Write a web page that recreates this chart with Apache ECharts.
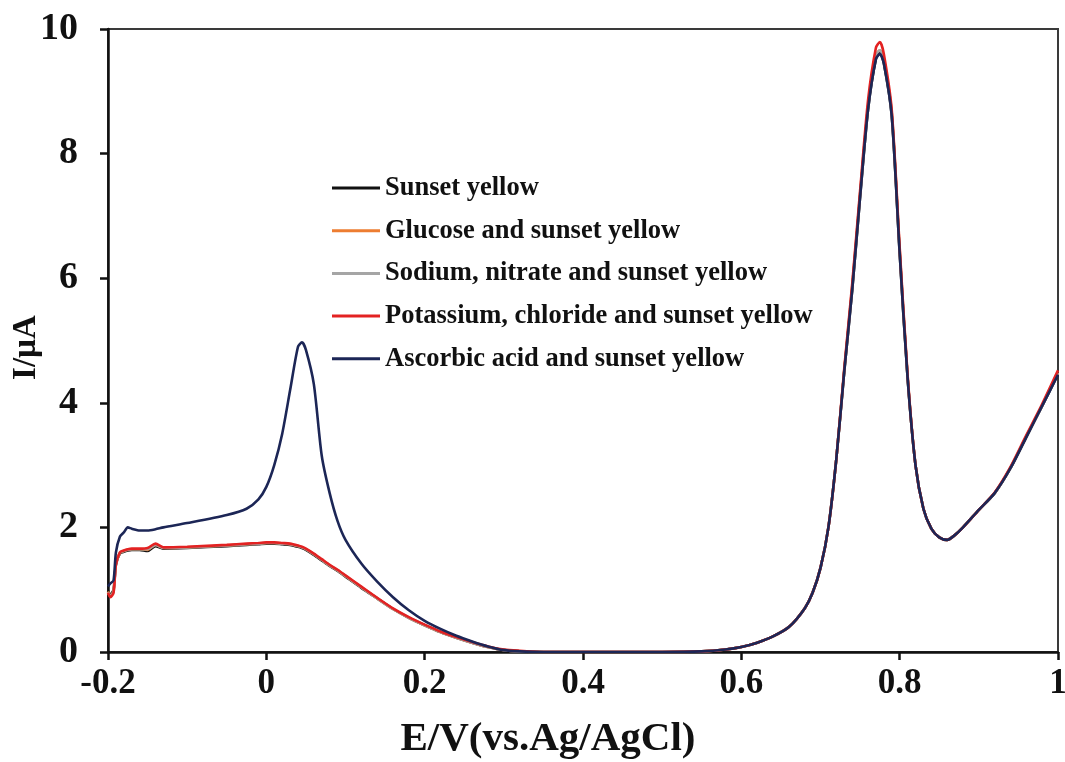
<!DOCTYPE html>
<html>
<head>
<meta charset="utf-8">
<script src="https://cdn.jsdelivr.net/npm/echarts@6/dist/echarts.min.js"></script>
<style>
html,body{margin:0;padding:0;background:#fff;}
#chart{width:1065px;height:762px;}
</style>
</head>
<body>
<div id="chart"></div>
<script>
// Potential (V vs Ag/AgCl)
const potentials = [-0.2,-0.197,-0.193,-0.19,-0.185,-0.18,-0.175,-0.17,-0.16,-0.15,-0.14,-0.13,-0.1,-0.05,-0.025,-0.01,0,0.01,0.02,0.03,0.04,0.045,0.05,0.06,0.07,0.08,0.09,0.1,0.12,0.14,0.16,0.18,0.2,0.22,0.24,0.26,0.28,0.3,0.32,0.35,
  0.4,0.45,0.5,0.55,0.58,0.6,0.62,0.64,0.66,0.68,0.69,0.7,0.71,0.72,0.73,0.74,0.75,0.76,0.77,0.775,0.78,0.79,0.8,0.81,0.82,0.83,0.84,0.85,0.86,0.87,0.88,0.9,0.92,0.94,0.96,0.98,1.0];

const sunsetYellow = [0.98,0.92,1.0,1.4,1.58,1.61,1.63,1.64,1.64,1.62,1.7,1.66,1.67,1.7,1.72,1.73,1.74,1.74,1.73,1.72,1.69,1.67,1.64,1.56,1.47,1.38,1.3,1.21,1.03,0.86,0.69,0.55,0.43,0.32,0.23,0.15,0.08,0.03,0.01,0,
  0,0,0,0.01,0.04,0.08,0.15,0.25,0.4,0.7,0.95,1.35,2.0,3.1,4.5,5.8,7.3,8.7,9.52,9.62,9.45,8.6,6.4,4.4,3.0,2.3,1.98,1.84,1.8,1.88,2.0,2.28,2.55,2.95,3.45,3.95,4.46];

const glucoseSY = [0.97,0.9,0.98,1.42,1.59,1.62,1.64,1.65,1.65,1.64,1.72,1.67,1.68,1.71,1.73,1.74,1.75,1.75,1.74,1.73,1.7,1.68,1.65,1.57,1.48,1.39,1.31,1.22,1.04,0.86,0.69,0.55,0.43,0.32,0.23,0.15,0.08,0.03,0.01,0,
  0,0,0,0.01,0.04,0.08,0.15,0.25,0.4,0.7,0.95,1.35,2.0,3.1,4.52,5.85,7.35,8.75,9.58,9.66,9.5,8.65,6.45,4.42,3.0,2.3,1.98,1.84,1.8,1.88,2.0,2.28,2.55,2.96,3.46,3.96,4.48];

const sodiumNitrateSY = [0.96,0.9,0.97,1.41,1.59,1.62,1.64,1.65,1.65,1.65,1.72,1.67,1.68,1.71,1.73,1.74,1.75,1.75,1.74,1.73,1.7,1.68,1.65,1.57,1.48,1.39,1.31,1.22,1.04,0.86,0.69,0.55,0.43,0.32,0.23,0.15,0.08,0.03,0.01,0,
  0,0,0,0.01,0.04,0.08,0.15,0.25,0.4,0.7,0.95,1.35,2.0,3.1,4.52,5.85,7.35,8.75,9.58,9.66,9.5,8.65,6.45,4.42,3.0,2.3,1.98,1.84,1.8,1.88,2.0,2.28,2.55,2.96,3.46,3.96,4.48];

const potassiumChlorideSY = [0.95,0.88,0.95,1.4,1.6,1.63,1.65,1.66,1.66,1.67,1.74,1.68,1.69,1.72,1.74,1.75,1.76,1.76,1.75,1.74,1.71,1.69,1.66,1.58,1.49,1.4,1.32,1.23,1.05,0.87,0.7,0.56,0.44,0.33,0.24,0.16,0.09,0.04,0.02,0,
  0,0,0,0.01,0.04,0.08,0.15,0.25,0.4,0.7,0.95,1.35,2.0,3.1,4.55,5.9,7.4,8.85,9.7,9.79,9.6,8.7,6.5,4.45,3.0,2.3,1.98,1.84,1.8,1.88,2.0,2.28,2.56,2.97,3.48,3.98,4.52];

const ascorbicSY = [1.05,1.1,1.15,1.6,1.85,1.92,2.0,1.98,1.95,1.95,1.97,2.0,2.07,2.2,2.3,2.45,2.65,3.0,3.5,4.2,4.9,4.97,4.85,4.3,3.15,2.55,2.1,1.8,1.42,1.13,0.88,0.67,0.5,0.37,0.26,0.17,0.09,0.03,0.01,0,
  0,0,0,0.01,0.04,0.08,0.15,0.25,0.4,0.7,0.95,1.35,2.0,3.1,4.5,5.8,7.3,8.7,9.52,9.6,9.45,8.6,6.4,4.4,3.0,2.3,1.98,1.84,1.8,1.88,2.0,2.28,2.55,2.95,3.45,3.95,4.45];

const seriesNames = ['Sunset yellow','Glucose and sunset yellow','Sodium, nitrate and sunset yellow','Potassium, chloride and sunset yellow','Ascorbic acid and sunset yellow'];
const seriesValues = [sunsetYellow, glucoseSY, sodiumNitrateSY, potassiumChlorideSY, ascorbicSY];
const seriesColors = ['#111111','#ED7D31','#A5A5A5','#E32222','#1C2656'];

const xTicks = {min:-0.2, max:1, interval:0.2};
const yTicks = {min:0, max:10, interval:2};

const FONT = '"Liberation Serif", "DejaVu Serif", serif';

const chart = echarts.init(document.getElementById('chart'), null, {renderer:'canvas'});

const series = seriesNames.map((name, i) => ({
  name,
  type: 'line',
  data: potentials.map((x, j) => [x, seriesValues[i][j]]),
  showSymbol: false,
  smooth: 0.25,
  lineStyle: {color: seriesColors[i], width: 2.6},
  itemStyle: {color: seriesColors[i]},
  z: 2 + i
}));

chart.setOption({
  animation: false,
  backgroundColor: '#ffffff',
  grid: {left:108, right:7, top:29, bottom:110, show:true, borderColor:'#3a3a3a', borderWidth:2,
    backgroundColor:'transparent', containLabel:false, outerBoundsMode:'none'},
  legend: {
    orient: 'vertical',
    left: 332,
    top: 173,
    padding: 0,
    icon: 'rect',
    itemWidth: 48,
    itemHeight: 3,
    itemGap: 12.7,
    data: seriesNames,
    textStyle: {fontFamily: FONT, fontWeight: 'bold', fontSize: 26.5, color: '#111', lineHeight: 30}
  },
  xAxis: {
    type: 'value',
    min: xTicks.min, max: xTicks.max, interval: xTicks.interval,
    name: 'E/V(vs.Ag/AgCl)',
    nameLocation: 'middle',
    nameGap: 67,
    nameTextStyle: {fontFamily: FONT, fontWeight: 'bold', fontSize: 41, color: '#111', padding: [0, 70, 0, 0]},
    axisLine: {show: true, onZero: false, lineStyle: {color: '#111', width: 2.5}},
    axisTick: {show: true, inside: false, length: 8, lineStyle: {color: '#111', width: 2.5}},
    axisLabel: {margin: 14, fontFamily: FONT, fontWeight: 'bold', fontSize: 35, color: '#111',
      formatter: v => String(parseFloat(v.toFixed(1)))},
    splitLine: {show: false}
  },
  yAxis: {
    type: 'value',
    min: yTicks.min, max: yTicks.max, interval: yTicks.interval,
    name: 'I/µA',
    nameLocation: 'middle',
    nameGap: 65,
    nameRotate: 90,
    nameMoveOverlap: false,
    nameTextStyle: {fontFamily: FONT, fontWeight: 'bold', fontSize: 33, color: '#111', padding: [0, 14, 0, 0]},
    axisLine: {show: true, onZero: false, lineStyle: {color: '#111', width: 2.5}},
    axisTick: {show: true, inside: false, length: 8, lineStyle: {color: '#111', width: 2.5}},
    axisLabel: {margin: 30, fontFamily: FONT, fontWeight: 'bold', fontSize: 38, color: '#111'},
    splitLine: {show: false}
  },
  series
});
</script>
</body>
</html>
